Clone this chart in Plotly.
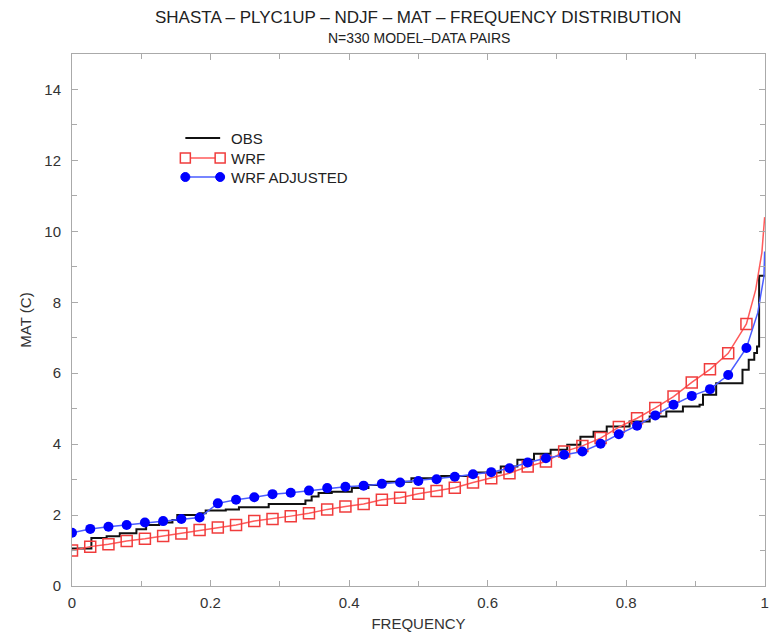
import plotly.graph_objects as go

# ---------------- data ----------------
MARKER_FREQ = [k / 38 for k in range(38)]

WRF_MARKERS = [1.00, 1.11, 1.18, 1.27, 1.33, 1.41, 1.48, 1.58, 1.65, 1.72,
               1.83, 1.89, 1.97, 2.05, 2.16, 2.24, 2.31, 2.43, 2.49, 2.60,
               2.68, 2.77, 2.92, 3.04, 3.18, 3.37, 3.51, 3.79, 3.95, 4.17,
               4.48, 4.73, 5.02, 5.34, 5.74, 6.11, 6.56, 7.39]
WRF_TAIL_FREQ = [0.987, 0.996, 1.0]
WRF_TAIL = [8.35, 9.40, 10.40]

ADJ_MARKERS = [1.50, 1.61, 1.67, 1.72, 1.79, 1.83, 1.89, 1.93, 2.33, 2.43,
               2.50, 2.59, 2.63, 2.69, 2.76, 2.80, 2.83, 2.88, 2.92, 2.96,
               3.01, 3.08, 3.15, 3.21, 3.32, 3.48, 3.60, 3.70, 3.79, 4.01,
               4.28, 4.52, 4.81, 5.11, 5.36, 5.55, 5.95, 6.71]
ADJ_TAIL_FREQ = [0.990, 0.999, 1.0]
ADJ_TAIL = [7.70, 8.73, 9.43]

OBS_FREQ = [0.0, 0.028, 0.050, 0.069, 0.093, 0.107, 0.126, 0.145, 0.152, 0.184,
            0.193, 0.222, 0.241, 0.284, 0.337, 0.346, 0.356, 0.375, 0.404, 0.428,
            0.452, 0.490, 0.533, 0.581, 0.619, 0.643, 0.667, 0.691, 0.715, 0.734,
            0.753, 0.772, 0.805, 0.834, 0.858, 0.882, 0.906, 0.911, 0.930, 0.968,
            0.977, 0.985, 0.989, 0.992, 1.0]
OBS = [1.06, 1.35, 1.40, 1.49, 1.60, 1.72, 1.79, 1.86, 2.00, 2.05,
       2.13, 2.16, 2.22, 2.31, 2.41, 2.52, 2.62, 2.66, 2.76, 2.85,
       2.94, 3.04, 3.10, 3.20, 3.37, 3.56, 3.73, 3.84, 3.98, 4.21,
       4.35, 4.50, 4.64, 4.78, 4.92, 5.06, 5.11, 5.39, 5.72, 6.10,
       6.38, 6.57, 6.75, 8.75, 8.75]

X_TICKS = [0, 0.2, 0.4, 0.6, 0.8, 1]
X_TICK_TEXT = ["0", "0.2", "0.4", "0.6", "0.8", "1"]
Y_TICKS = [0, 2, 4, 6, 8, 10, 12, 14]

TITLE = "SHASTA – PLYC1UP – NDJF – MAT – FREQUENCY DISTRIBUTION"
SUBTITLE = "N=330 MODEL–DATA PAIRS"
LEGEND_NAMES = ["OBS", "WRF", "WRF ADJUSTED"]

# ---------------- styles ----------------
FONT = "Liberation Sans, Arial, sans-serif"
RED = "#f03c3c"
RED_LINE = "#ff5a5a"
BLUE = "#0000ff"
BLUE_LINE = "#4a5cff"
FRAME = "#aaaaaa"
TXT = "#333333"

fig = go.Figure()

# OBS step line
fig.add_trace(go.Scatter(x=OBS_FREQ, y=OBS, mode="lines", line_shape="hv",
                         line=dict(color="#111111", width=2), showlegend=False))

# WRF
fig.add_trace(go.Scatter(x=MARKER_FREQ + WRF_TAIL_FREQ, y=WRF_MARKERS + WRF_TAIL,
                         mode="lines", line=dict(color=RED_LINE, width=1.5),
                         showlegend=False))
fig.add_trace(go.Scatter(x=MARKER_FREQ, y=WRF_MARKERS, mode="markers",
                         marker=dict(symbol="square-open", size=11, color=RED,
                                     line=dict(width=1.5, color=RED)),
                         showlegend=False))

# WRF adjusted
fig.add_trace(go.Scatter(x=MARKER_FREQ + ADJ_TAIL_FREQ, y=ADJ_MARKERS + ADJ_TAIL,
                         mode="lines", line=dict(color=BLUE_LINE, width=1.5),
                         showlegend=False))
fig.add_trace(go.Scatter(x=MARKER_FREQ, y=ADJ_MARKERS, mode="markers",
                         marker=dict(symbol="circle", size=10, color=BLUE),
                         showlegend=False))

# ---------------- manual legend (paper coords) ----------------
L, R, T, B = 72, 769, 54, 586
W, H = R - L, B - T


def px(x):
    return (x - L) / W


def py(y):
    return (B - y) / H


shapes = []
annotations = []
rows = [(138, "#111111", 2, None), (158, RED_LINE, 1.5, "square"), (177, BLUE_LINE, 1.5, "circle")]
for (yy, col, lw, mk), name in zip(rows, LEGEND_NAMES):
    shapes.append(dict(type="line", xref="paper", yref="paper", x0=px(186), x1=px(221),
                       y0=py(yy), y1=py(yy), line=dict(color=col, width=lw)))
    for xx in (186, 221):
        if mk == "square":
            shapes.append(dict(type="rect", xref="paper", yref="paper",
                               xsizemode="pixel", ysizemode="pixel",
                               xanchor=px(xx), yanchor=py(yy), x0=-5, x1=5, y0=-5, y1=5,
                               line=dict(color=RED, width=1.5), fillcolor="white"))
        elif mk == "circle":
            shapes.append(dict(type="circle", xref="paper", yref="paper",
                               xsizemode="pixel", ysizemode="pixel",
                               xanchor=px(xx), yanchor=py(yy), x0=-4.5, x1=4.5, y0=-4.5, y1=4.5,
                               line=dict(color=BLUE, width=1), fillcolor=BLUE))
    annotations.append(dict(text=name, xref="paper", yref="paper", x=px(230), y=py(yy),
                            xanchor="left", yanchor="middle", showarrow=False,
                            font=dict(family=FONT, size=15, color="#222222")))

annotations.append(dict(text=TITLE, xref="paper", yref="paper", x=px(420), y=py(18),
                        xanchor="center", yanchor="middle", showarrow=False,
                        font=dict(family=FONT, size=17, color="#222222")))
annotations.append(dict(text=SUBTITLE, xref="paper", yref="paper", x=px(421), y=py(38),
                        xanchor="center", yanchor="middle", showarrow=False,
                        font=dict(family=FONT, size=14, color="#222222")))

axis_common = dict(showline=True, linecolor=FRAME, linewidth=1, mirror="ticks",
                   ticks="inside", ticklen=6, tickcolor=FRAME, showgrid=False,
                   zeroline=False, tickfont=dict(family=FONT, size=15, color=TXT))

fig.update_layout(
    width=773, height=634,
    margin=dict(l=L, r=773 - R, t=T, b=634 - B),
    paper_bgcolor="white", plot_bgcolor="white",
    shapes=shapes, annotations=annotations,
    xaxis=dict(range=[0, 1.0005], tickvals=X_TICKS, ticktext=X_TICK_TEXT,
               ticklabelstandoff=3,
               minor=dict(tickvals=[0.1, 0.3, 0.5, 0.7, 0.9], ticks="inside",
                          ticklen=5, tickcolor=FRAME),
               title=dict(text="FREQUENCY", font=dict(family=FONT, size=15, color=TXT), standoff=8),
               **axis_common),
    yaxis=dict(range=[0, 15], tickvals=Y_TICKS, ticklabelstandoff=7,
               minor=dict(dtick=1, ticks="inside", ticklen=5, tickcolor=FRAME),
               title=dict(text="MAT (C)", font=dict(family=FONT, size=15, color=TXT), standoff=9),
               **axis_common),
)

fig.write_html("out.html")
